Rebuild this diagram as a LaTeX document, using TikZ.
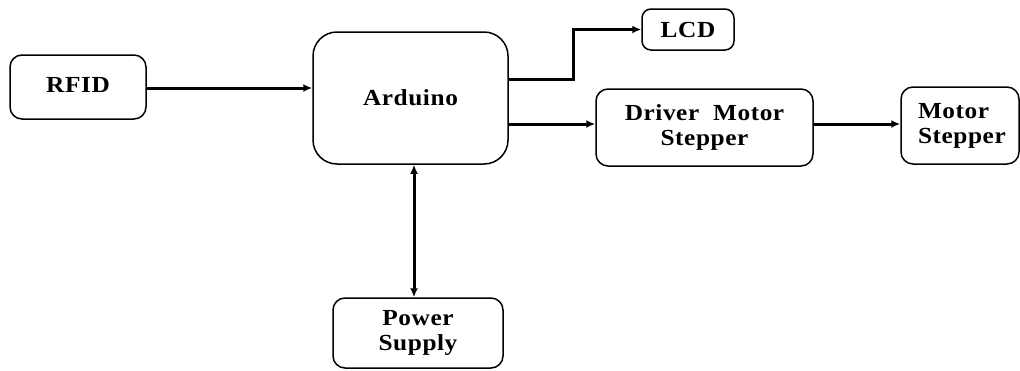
\documentclass[tikz,border=0pt]{standalone}
\usepackage{fontspec}
\setmainfont{Liberation Serif}[FakeStretch=1.1,LetterSpace=2.5]
\usetikzlibrary{arrows.meta}
\begin{document}
\begin{tikzpicture}[x=1pt,y=-1pt,
  box/.style={draw,line width=1.5pt,rounded corners=12pt,inner sep=0pt,
    font=\fontsize{23}{25}\selectfont\bfseries,align=center},
  arr/.style={line width=3pt,-{Latex[length=9pt,width=8pt]}},
  dbl/.style={line width=3pt,{Latex[length=9pt,width=8pt]}-{Latex[length=9pt,width=8pt]}}]
\useasboundingbox (0,0) rectangle (1020,370);
\node[box,minimum width=136,minimum height=64] (rfid) at (78,87) {RFID\strut\vspace{4pt}};
\node[box,minimum width=195,minimum height=132,rounded corners=24pt] (ard) at (410.5,98) {Arduino\vspace{5pt}};
\node[box,minimum width=92,minimum height=41,rounded corners=9pt] (lcd) at (688,29.5) {LCD};
\node[box,minimum width=217,minimum height=77] (drv) at (704.5,127.5) {Driver\ \ Motor\\Stepper};
\node[box,minimum width=118,minimum height=77,align=left,text width=84,inner xsep=17] (mot) at (960,125.5) {Motor\\Stepper};
\node[box,minimum width=170,minimum height=70] (pwr) at (418,333) {Power\\Supply};
\draw[arr] (rfid.east) ++(0,1) coordinate (r1) -- (r1 -| ard.west);
\draw[arr] ([yshift=19pt]ard.east) -- ++(65,0) |- (lcd.west);
\draw[arr] ([yshift=-26pt]ard.east) -- ([yshift=-26pt]ard.east -| drv.west);
\draw[arr] ([yshift=3.5pt]drv.east) -- ([yshift=3.5pt]drv.east -| mot.west);
\draw[dbl] ([xshift=3.5pt]ard.south) -- ([xshift=3.5pt]ard.south |- pwr.north);
\end{tikzpicture}
\end{document}
